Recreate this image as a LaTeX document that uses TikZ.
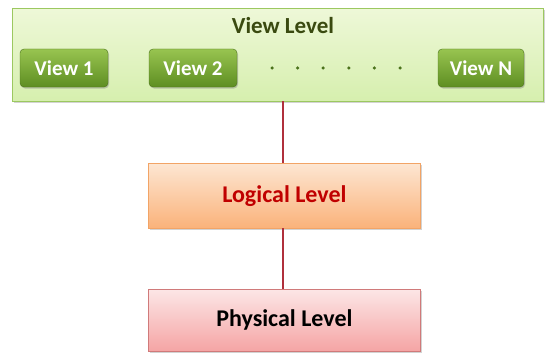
\documentclass[tikz,border=0pt]{standalone}
\usepackage{fontspec}
\setmainfont{Carlito}
\usetikzlibrary{shadows}
\definecolor{vlfillA}{HTML}{EEF8D8}
\definecolor{vlfillB}{HTML}{D6EFAE}
\definecolor{vlborder}{HTML}{9CC860}
\definecolor{btnA}{HTML}{98C450}
\definecolor{btnB}{HTML}{5E8E22}
\definecolor{lgA}{HTML}{FDE6D2}
\definecolor{lgB}{HTML}{FAB27A}
\definecolor{lgborder}{HTML}{F2A466}
\definecolor{phA}{HTML}{FCE6E6}
\definecolor{phB}{HTML}{F5A4A4}
\definecolor{phborder}{HTML}{D07A7A}
\definecolor{linkc}{HTML}{B0303C}
\definecolor{lgtext}{HTML}{C00000}
\definecolor{vltext}{HTML}{3A4A10}
\tikzset{
  x=1pt,y=1pt,
  levelbox/.style={draw, line width=0.8pt, anchor=north west, inner sep=0pt, drop shadow={shadow xshift=1.2pt,shadow yshift=-1.2pt,opacity=0.35}},
  viewbtn/.style={rounded corners=4pt, top color=btnA, bottom color=btnB, draw=btnB!80!black, line width=0.4pt,
     minimum width=88pt, minimum height=38pt, inner sep=0pt, text=white, font=\bfseries\fontsize{21}{24}\selectfont,
     drop shadow={shadow xshift=1pt,shadow yshift=-1.5pt,opacity=0.4}},
  dotc/.style={circle, fill=btnB!80!black, inner sep=0pt, minimum size=3.5pt},
  link/.style={draw=linkc, line width=1.3pt},
}
\begin{document}
\begin{tikzpicture}
\useasboundingbox (0,0) rectangle (554,-353);
% view level
\node[levelbox, draw=vlborder, top color=vlfillA, bottom color=vlfillB, minimum width=531pt, minimum height=93pt] (vl) at (12,-8) {};
\node[font=\bfseries\fontsize{23}{26}\selectfont, text=vltext] (vlt) at (283,-26) {View Level};
\node[viewbtn] (v1) at (64,-68) {View 1};
\node[viewbtn] (v2) at (193,-68) {View 2};
\node[viewbtn, minimum width=86pt] (vn) at (481,-68) {View N};
\foreach \i [count=\k] in {0,...,5}{
  \node[dotc] (d\k) at (272+\i*25.6,-68) {};
}
% logical level
\node[levelbox, draw=lgborder, top color=lgA, bottom color=lgB, minimum width=272pt, minimum height=65pt] (lg) at (148,-163) {};
\node[font=\bfseries\fontsize{24}{28}\selectfont, text=lgtext] (lgt) at (lg.center) {Logical Level};
% physical level
\node[levelbox, draw=phborder, top color=phA, bottom color=phB, minimum width=272pt, minimum height=62pt] (ph) at (148,-289) {};
\node[font=\bfseries\fontsize{24}{28}\selectfont, text=black] (pht) at (ph.center) {Physical Level};
% connectors
\coordinate (vlb) at (283,-101);
\coordinate (lgtop) at (283,-163);
\coordinate (lgbot) at (283,-228);
\coordinate (phtop) at (283,-289);
\draw[link] (vlb) -- (lgtop);
\draw[link] (lgbot) -- (phtop);
\end{tikzpicture}
\end{document}
